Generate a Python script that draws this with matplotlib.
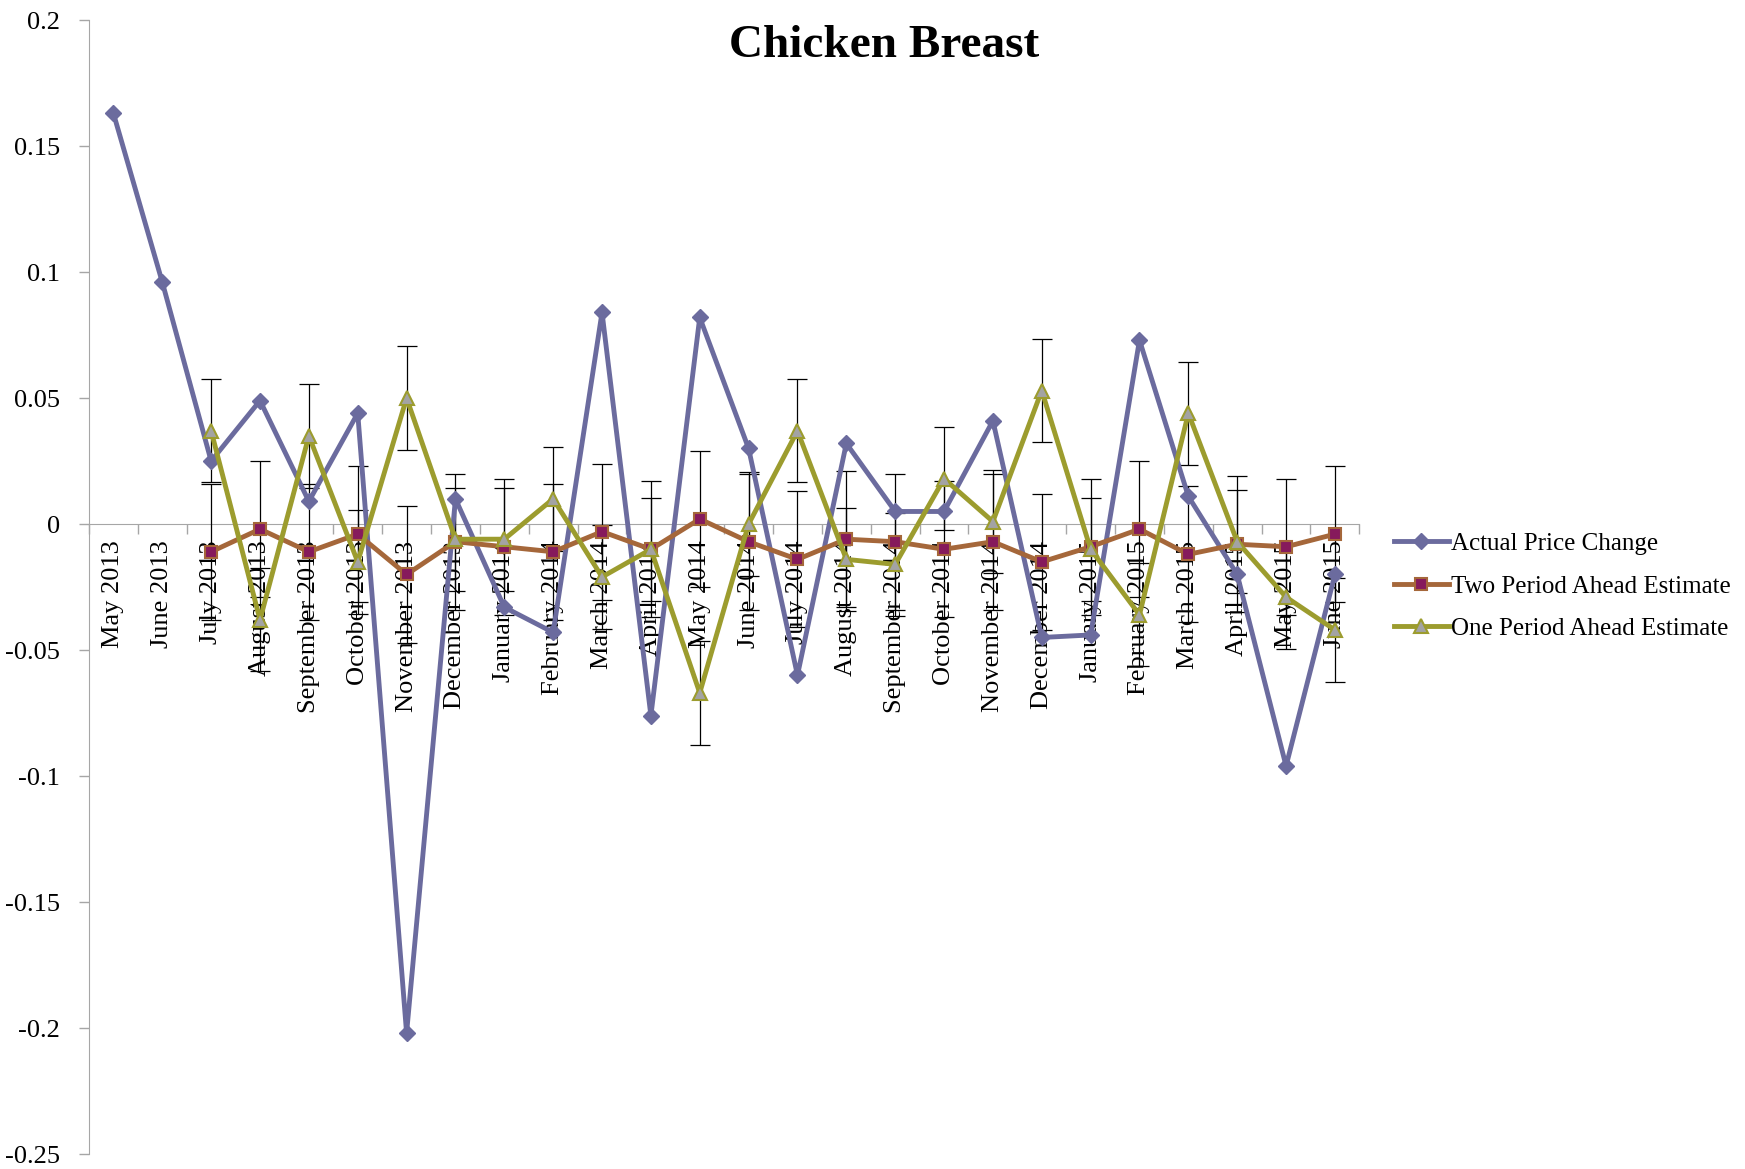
import matplotlib.pyplot as plt
from matplotlib.ticker import FixedLocator, FuncFormatter

plt.rcParams['font.family'] = ['Liberation Serif', 'DejaVu Serif']

# Months on the category axis
months = ['May 2013', 'June 2013', 'July 2013', 'August 2013', 'September 2013',
          'October 2013', 'November 2013', 'December 2013', 'January 2014',
          'February 2014', 'March 2014', 'April 2014', 'May 2014', 'June 2014',
          'July 2014', 'August 2014', 'September 2014', 'October 2014',
          'November 2014', 'December 2014', 'January 2015', 'February 2015',
          'March 2015', 'April 2015', 'May 2015', 'June 2015']

actual = [0.163, 0.096, 0.025, 0.049, 0.009, 0.044, -0.202, 0.010, -0.033,
          -0.043, 0.084, -0.076, 0.082, 0.030, -0.060, 0.032, 0.005, 0.005,
          0.041, -0.045, -0.044, 0.073, 0.011, -0.020, -0.096, -0.020]

# estimates start in July 2013
two_ahead = [-0.011, -0.002, -0.011, -0.004, -0.020, -0.007, -0.009, -0.011,
             -0.003, -0.010, 0.002, -0.007, -0.014, -0.006, -0.007, -0.010,
             -0.007, -0.015, -0.009, -0.002, -0.012, -0.008, -0.009, -0.004]
one_ahead = [0.037, -0.038, 0.035, -0.015, 0.050, -0.006, -0.006, 0.010,
             -0.021, -0.010, -0.067, 0.000, 0.037, -0.014, -0.016, 0.018,
             0.001, 0.053, -0.010, -0.036, 0.044, -0.007, -0.029, -0.042]

two_err = 0.027
one_err = 0.0205

yticks = [0.2, 0.15, 0.1, 0.05, 0, -0.05, -0.1, -0.15, -0.2, -0.25]

x_all = list(range(len(months)))
x_est = x_all[2:]

fig = plt.figure(figsize=(17.45, 11.69), dpi=100)
ax = fig.add_axes([0.051, 0.0128, 0.728, 0.970])

c_actual = '#6B6B9E'
c_two_line = '#A5673A'
c_two_face = '#861A5C'
c_one_line = '#9C9C2E'
c_one_face = '#A3A3A3'

# error bars first, then the series on top
ax.errorbar(x_est, two_ahead, yerr=two_err, fmt='none', ecolor='black',
            elinewidth=0.9, capsize=7, capthick=0.9, zorder=3)
ax.errorbar(x_est, one_ahead, yerr=one_err, fmt='none', ecolor='black',
            elinewidth=0.9, capsize=7, capthick=0.9, zorder=3)

ax.plot(x_all, actual, color=c_actual, lw=3.5, marker='D', ms=8.5,
        mfc=c_actual, mec=c_actual, label='Actual Price Change', zorder=4)
ax.plot(x_est, two_ahead, color=c_two_line, lw=3.5, marker='s', ms=9,
        mfc=c_two_face, mec=c_two_line, mew=1.5,
        label='Two Period Ahead Estimate', zorder=5)
ax.plot(x_est, one_ahead, color=c_one_line, lw=3.5, marker='^', ms=10,
        mfc=c_one_face, mec=c_one_line, mew=1.5,
        label='One Period Ahead Estimate', zorder=6)

ax.set_xlim(-0.5, len(months) - 0.5)
ax.set_ylim(-0.25, 0.2)

# axes look
ax.set_axisbelow(True)
for s in ['top', 'right']:
    ax.spines[s].set_visible(False)
ax.spines['left'].set_color('#A6A6A6')
ax.spines['bottom'].set_color('#A6A6A6')
ax.spines['bottom'].set_position(('data', 0))

ax.yaxis.set_major_locator(FixedLocator(yticks))
ax.yaxis.set_major_formatter(FuncFormatter(lambda v, p: ('%g' % v) if abs(v) > 1e-9 else '0'))
ax.tick_params(axis='y', direction='out', length=7, width=1, color='#A6A6A6',
               labelsize=19, pad=14)

ax.set_xticks(x_all)
ax.set_xticklabels(months, rotation=90, ha='center', va='top')
ax.set_xticks([i - 0.5 for i in range(len(months) + 1)], minor=True)
ax.tick_params(axis='x', which='major', length=0, labelsize=19, pad=12)
ax.tick_params(axis='x', which='minor', direction='out', length=7, width=1,
               color='#A6A6A6')

fig.text(0.5066, 0.961, 'Chicken Breast', ha='center', va='center',
         fontsize=34, fontweight='bold')

ax.legend(loc='upper left', bbox_to_anchor=(0.7915, 0.555),
          bbox_transform=fig.transFigure, frameon=False, fontsize=18,
          handlelength=2.2, handletextpad=0.1, labelspacing=0.8,
          borderpad=0, numpoints=1)

fig.savefig('out.png', dpi=100)
